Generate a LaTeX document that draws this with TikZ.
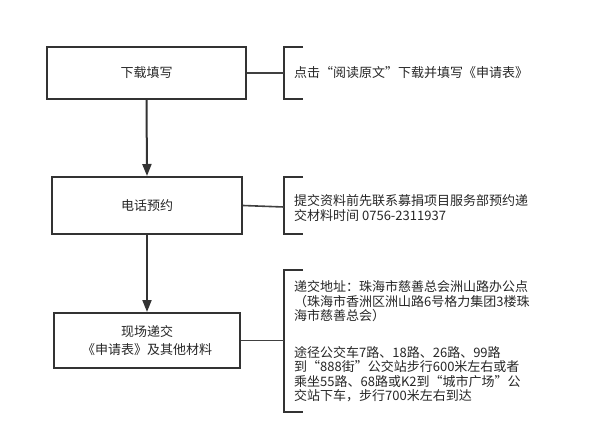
\documentclass[tikz,border=0pt]{standalone}
\usepackage{fontspec}
\newfontfamily\cjk{Noto Sans CJK SC}
\usepackage{tikz}
\usetikzlibrary{arrows.meta,positioning}

\begin{document}
\begin{tikzpicture}[
  x=1pt, y=-1pt,
  >={Triangle[width=9pt,length=12pt]},
  font=\cjk\fontsize{13}{14.5}\selectfont,
  text=black!85,
  box/.style={draw=black!80, line width=2pt, align=center, inner sep=0pt},
  note/.style={anchor=west, align=left, inner sep=0pt},
  brace/.style={draw=black!80, line width=2pt},
  link/.style={draw=black!75, line width=1.6pt},
  flow/.style={->, draw=black!80, line width=2pt},
]
  \useasboundingbox (0,0) rectangle (599,444);

  % steps
  \node[box, minimum width=199pt, minimum height=52pt] (load) at (146.5,73) {下载填写};
  \node[box, minimum width=190pt, minimum height=57pt] (call) at (147,205.5) {电话预约};
  \node[box, minimum width=186pt, minimum height=55pt] (hand) at (147,340.5)
    {现场递交\\[4pt]《申请表》及其他材料};

  \draw[flow] (load.south) -- (call.north);
  \draw[flow] (call.south) -- (hand.north);

  % notes with brackets
  \draw[brace] (303,47) -- (284,47) -- (284,99) -- (303,99);
  \coordinate (k1) at (284,73);
  \node[note] (n1) at (294,73) {点击“阅读原文”下载并填写《申请表》};

  \draw[brace] (303,177) -- (284,177) -- (284,234) -- (303,234);
  \coordinate (k2) at (284,207);
  \node[note] (n2) at (294,208)
    {提交资料前先联系募捐项目服务部预约递\\交材料时间 0756-2311937};

  \draw[brace] (303,270) -- (284,270) -- (284,412) -- (303,412);
  \coordinate (k3) at (284,340.5);
  \node[note] (n3) at (294,341.5)
    {递交地址：珠海市慈善总会洲山路办公点\\
     （珠海市香洲区洲山路6号格力集团3楼珠\\
     海市慈善总会）\\[22pt]
     途径公交车7路、18路、26路、99路\\
     到“888街”公交站步行600米左右或者\\
     乘坐55路、68路或K2到“城市广场”公\\
     交站下车，步行700米左右到达};

  \draw[link] (load.east) -- (k1);
  \draw[link] (call.east) -- (k2);
  \draw[link] (hand.east) -- (k3);
\end{tikzpicture}
\end{document}
